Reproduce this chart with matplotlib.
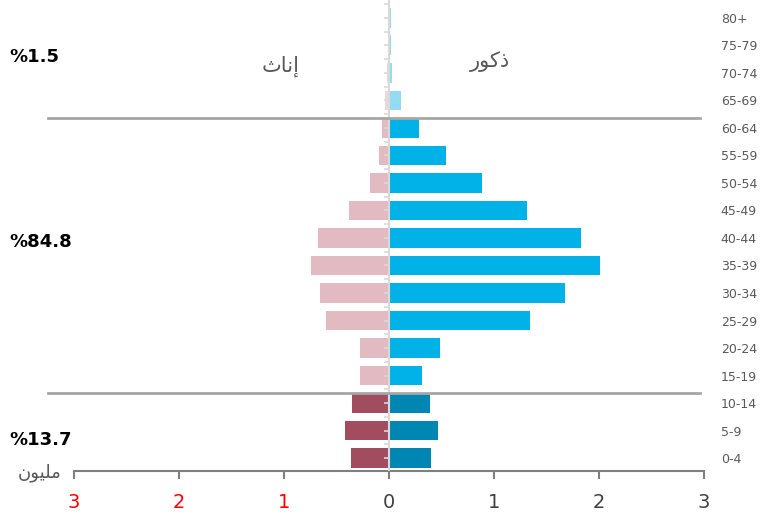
import numpy as np
import matplotlib
matplotlib.use('Agg')
import matplotlib.pyplot as plt

# Age groups (bottom to top) and population in millions
age_groups = ['0-4', '5-9', '10-14', '15-19', '20-24', '25-29', '30-34', '35-39',
              '40-44', '45-49', '50-54', '55-59', '60-64', '65-69', '70-74', '75-79', '80+']
males = [0.40, 0.47, 0.39, 0.31, 0.49, 1.34, 1.68, 2.01,
         1.83, 1.31, 0.89, 0.54, 0.29, 0.11, 0.03, 0.015, 0.015]
females = [0.36, 0.42, 0.35, 0.28, 0.28, 0.60, 0.66, 0.74,
           0.68, 0.38, 0.18, 0.10, 0.07, 0.04, 0.02, 0.01, 0.01]
group_shares = ['%13.7', '%84.8', '%1.5']
x_ticks = [-3, -2, -1, 0, 1, 2, 3]
x_ticklabels = ['3', '2', '1', '0', '1', '2', '3']

# Arabic text in presentation forms (matplotlib does no shaping)
label_female = '\uFE99\uFE8E\uFEE7\uFE87'        # إناث
label_male = '\uFEAD\uFEEE\uFEDB\uFEAB'          # ذكور
label_unit = '\uFEE5\uFEEE\uFEF4\uFEE0\uFEE3'    # مليون


def band(i):
    if i < 3:
        return 0
    if i < 13:
        return 1
    return 2


male_colors = ['#0086B3', '#00B2E8', '#93DCF3']
female_colors = ['#A24C60', '#E2BAC2', '#EDD8DC']

fig = plt.figure(figsize=(7.65, 5.16), dpi=100)
ax = fig.add_axes([74 / 765, 45 / 516, 630 / 765, 471 / 516])

y = np.arange(len(age_groups))
mc = [male_colors[band(i)] for i in y]
fc = [female_colors[band(i)] for i in y]
ax.barh(y, males, height=0.72, color=mc, zorder=2)
ax.barh(y, [-v for v in females], height=0.72, color=fc, zorder=2)

ax.set_xlim(-3, 3)
ax.set_ylim(-0.47, 16.65)

# central axis with small ticks
ax.axvline(0, color='#D9D9D9', linewidth=1.5, zorder=3)
ax.hlines(y + 0.5, -0.05, 0, color='#D9D9D9', linewidth=1.2, zorder=3)
ax.hlines(y, -0.05, 0, color='#D9D9D9', linewidth=1.2, zorder=3)

# group separators
for yy in [2.36, 12.36]:
    ax.plot([-3.25, 2.96], [yy, yy], color='#A6A6A6', linewidth=2, clip_on=False, zorder=4)

for s in ['top', 'right', 'left']:
    ax.spines[s].set_visible(False)
ax.spines['bottom'].set_color('#7F7F7F')
ax.spines['bottom'].set_linewidth(1.5)

ax.set_xticks(x_ticks)
ax.set_xticklabels(x_ticklabels, fontsize=14)
ax.tick_params(axis='x', length=6, width=1.5, color='#7F7F7F', pad=10)
for lbl, v in zip(ax.get_xticklabels(), x_ticks):
    lbl.set_color('#FF0000' if v < 0 else '#404040')

ax.yaxis.tick_right()
ax.set_yticks(y)
ax.set_yticklabels(age_groups, fontsize=9, color='#595959')
ax.tick_params(axis='y', length=0, pad=12)
for lbl in ax.get_yticklabels():
    lbl.set_horizontalalignment('left')

fig.text(281 / 765, 1 - 66 / 516, label_female, fontsize=15, color='#595959',
         ha='center', va='center', family='DejaVu Sans')
fig.text(490 / 765, 1 - 62 / 516, label_male, fontsize=15, color='#595959',
         ha='center', va='center', family='DejaVu Sans')
fig.text(18 / 765, 1 - 473 / 516, label_unit, fontsize=13, color='#595959',
         ha='left', va='center', family='DejaVu Sans')

for txt, ypx in zip(group_shares, [440, 242, 57]):
    fig.text(9 / 765, 1 - ypx / 516, txt, fontsize=13, fontweight='bold',
             color='#000000', ha='left', va='center')

plt.savefig('out.png', dpi=100)
plt.close()
